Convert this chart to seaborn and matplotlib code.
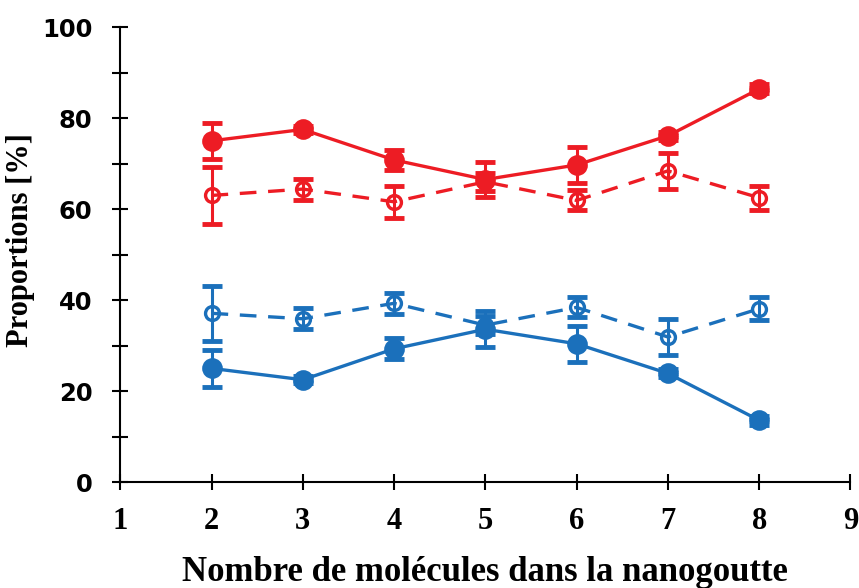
import matplotlib
matplotlib.use("Agg")
import matplotlib.pyplot as plt
import seaborn as sns
import pandas as pd
from matplotlib.ticker import MultipleLocator

# number of molecules in the nanodroplet
molecules = [2, 3, 4, 5, 6, 7, 8]

red_solid = [75.0, 77.5, 70.8, 66.5, 69.7, 76.1, 86.4]
red_solid_err = [4.0, 0.8, 2.2, 3.8, 3.9, 0.9, 1.0]
red_dashed = [63.0, 64.4, 61.6, 66.0, 61.9, 68.4, 62.5]
red_dashed_err = [6.3, 2.3, 3.5, 2.0, 2.2, 4.0, 2.6]

blue_solid = [25.0, 22.5, 29.3, 33.6, 30.4, 23.9, 13.6]
blue_solid_err = [4.0, 0.8, 2.3, 3.9, 3.9, 0.9, 1.0]
blue_dashed = [37.1, 35.9, 39.3, 34.5, 38.4, 31.9, 38.1]
blue_dashed_err = [6.1, 2.3, 2.3, 2.0, 2.2, 4.0, 2.5]

RED = "#ED1C24"
BLUE = "#1B70BB"

sns.set_style("ticks")
plt.rcParams["text.color"] = "black"
plt.rcParams["xtick.color"] = "black"
plt.rcParams["ytick.color"] = "black"
plt.rcParams["axes.labelcolor"] = "black"

fig = plt.figure(figsize=(8.59, 5.88), dpi=100)
ax = fig.add_axes([0.14, 0.18, 0.85, 0.774])

series = [
    (red_solid, red_solid_err, RED, "-", True),
    (red_dashed, red_dashed_err, RED, "--", False),
    (blue_solid, blue_solid_err, BLUE, "-", True),
    (blue_dashed, blue_dashed_err, BLUE, "--", False),
]

for vals, errs, col, ls, filled in series:
    df = pd.DataFrame({"x": molecules, "y": vals})
    sns.lineplot(data=df, x="x", y="y", ax=ax, color=col, linewidth=2.4,
                 linestyle=ls, marker="o", markersize=12.5 if filled else 10,
                 markerfacecolor=col if filled else "none",
                 markeredgecolor=col, markeredgewidth=2.4, zorder=3)
    if ls == "--":
        ax.lines[-1].set_dashes((5, 3.5))
    ax.errorbar(molecules, vals, yerr=errs, fmt="none", ecolor=col,
                elinewidth=2.2, capsize=7, capthick=3.5, zorder=4)

ax.set_xlim(1, 9)
ax.set_ylim(0, 100)
ax.xaxis.set_major_locator(MultipleLocator(1))
ax.yaxis.set_major_locator(MultipleLocator(20))
ax.yaxis.set_minor_locator(MultipleLocator(10))
ax.tick_params(axis="both", which="both", direction="inout", width=1.5,
               color="black", labelcolor="black")
ax.tick_params(axis="both", which="major", length=12)
ax.tick_params(axis="y", which="minor", length=12)

for s in ["top", "right"]:
    ax.spines[s].set_visible(False)
for s in ["left", "bottom"]:
    ax.spines[s].set_linewidth(1.5)
    ax.spines[s].set_color("black")

for lab in ax.get_yticklabels():
    lab.set_fontfamily("DejaVu Sans")
    lab.set_fontweight("bold")
    lab.set_fontsize(17.5)
for lab in ax.get_xticklabels():
    lab.set_fontfamily("Liberation Serif")
    lab.set_fontweight("bold")
    lab.set_fontsize(22)
ax.tick_params(axis="x", pad=12)
ax.tick_params(axis="y", pad=14)

ax.set_xlabel("Nombre de molécules dans la nanogoutte", fontfamily="Liberation Serif",
              fontweight="bold", fontsize=25, color="black")
ax.set_ylabel("Proportions [%]", fontfamily="Liberation Serif",
              fontweight="bold", fontsize=22, color="black")
ax.xaxis.set_label_coords(0.5, -0.163)
ax.yaxis.set_label_coords(-0.117, 0.532)

fig.savefig("out.png", dpi=100)
